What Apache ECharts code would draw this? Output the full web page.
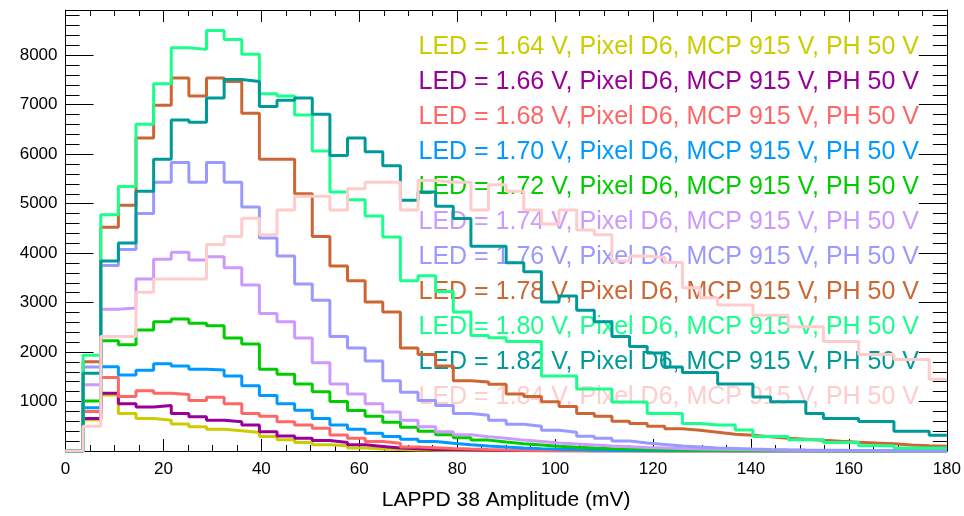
<!DOCTYPE html>
<html>
<head>
<meta charset="utf-8">
<script src="https://cdn.jsdelivr.net/npm/echarts@6/dist/echarts.min.js"></script>
<style>
  html, body { margin: 0; padding: 0; background: #fff; }
  #chart { width: 964px; height: 516px; }
</style>
</head>
<body>
<div id="chart"></div>
<script>
// bin width of the histograms (mV), 50 bins from 0 to 180
const BIN_W = 3.6;

const ledVoltages = ['1.64', '1.66', '1.68', '1.70', '1.72', '1.74', '1.76', '1.78', '1.80', '1.82', '1.84'];
const colors = ['#cccc00', '#990099', '#ff6666', '#0099ff', '#00cc00', '#cc99ff', '#9999ff', '#cc6633', '#1aff8c', '#009999', '#ffcccc'];

// counts per bin
const led164 = [0, 630, 1130, 756, 657, 623, 544, 491, 438, 411, 372, 292, 225, 173, 126, 106, 60, 40, 30, 22, 16, 12, 9, 7, 5, 4, 3, 2, 2, 1, 1, 1, 0, 0, 0, 0, 0, 0, 0, 0, 0, 0, 0, 0, 0, 0, 0, 0, 0, 0];
const led166 = [0, 657, 1168, 955, 889, 922, 756, 690, 623, 590, 524, 391, 305, 259, 212, 173, 126, 93, 60, 45, 32, 24, 18, 13, 10, 8, 6, 4, 3, 2, 2, 1, 1, 1, 0, 0, 0, 0, 0, 0, 0, 0, 0, 0, 0, 0, 0, 0, 0, 0];
const led168 = [0, 800, 1486, 1101, 1220, 1168, 1141, 1021, 1088, 955, 756, 700, 590, 524, 458, 325, 259, 193, 159, 80, 65, 50, 38, 28, 21, 16, 12, 9, 7, 5, 4, 3, 2, 2, 1, 1, 0, 0, 0, 0, 0, 0, 0, 0, 0, 0, 0, 0, 0, 0];
const led170 = [0, 876, 1705, 1538, 1632, 1765, 1717, 1652, 1638, 1518, 1320, 1120, 955, 822, 657, 524, 438, 358, 292, 239, 193, 159, 126, 100, 80, 62, 48, 37, 28, 21, 16, 12, 9, 7, 5, 4, 3, 2, 2, 1, 1, 0, 0, 0, 0, 0, 0, 0, 0, 0];
const led172 = [0, 1009, 2229, 2149, 2448, 2613, 2667, 2581, 2534, 2283, 2163, 1652, 1552, 1353, 1200, 1000, 820, 700, 580, 480, 400, 330, 270, 220, 180, 145, 120, 95, 75, 60, 48, 38, 30, 24, 18, 14, 10, 8, 6, 5, 4, 3, 2, 2, 1, 1, 1, 0, 0, 0];
const led174 = [0, 1340, 2866, 2892, 3476, 3874, 4020, 3861, 3926, 3707, 3357, 2780, 2613, 2283, 1785, 1353, 1154, 955, 790, 623, 491, 391, 330, 290, 260, 220, 190, 160, 140, 120, 100, 85, 70, 60, 50, 42, 35, 30, 25, 20, 17, 14, 12, 10, 8, 7, 6, 5, 4, 3];
const led176 = [0, 1698, 3750, 4073, 4802, 5433, 5831, 5433, 5831, 5433, 4935, 4304, 3940, 3377, 3045, 2314, 2083, 1817, 1419, 1188, 1021, 922, 756, 723, 623, 540, 500, 420, 380, 300, 259, 200, 160, 130, 100, 80, 60, 50, 40, 32, 26, 21, 17, 14, 11, 9, 7, 6, 5, 4];
const led178 = [0, 1805, 4523, 4969, 6328, 6991, 7542, 7178, 7542, 7469, 6826, 5897, 5897, 5200, 4338, 3741, 3443, 3011, 2812, 2083, 1950, 1717, 1419, 1393, 1350, 1154, 1100, 995, 900, 756, 700, 600, 557, 500, 450, 418, 380, 340, 318, 290, 260, 239, 215, 195, 179, 160, 145, 119, 105, 95];
const led180 = [0, 1937, 4776, 5347, 6607, 7423, 8153, 8119, 8503, 8318, 8020, 7224, 7178, 6792, 6067, 5234, 5081, 4750, 4324, 3443, 3542, 3224, 2812, 2334, 2290, 2215, 2215, 1518, 1518, 1254, 1254, 989, 989, 756, 756, 557, 524, 524, 424, 292, 292, 225, 225, 172, 172, 106, 106, 60, 60, 60];
const led182 = [0, 1572, 3841, 4205, 5250, 5897, 6692, 6647, 7138, 7508, 7469, 6965, 7090, 7138, 6806, 5976, 6328, 6050, 5765, 5068, 5234, 4950, 4700, 4140, 4140, 3807, 3622, 3011, 3131, 2846, 2613, 2314, 2115, 1983, 1700, 1585, 1585, 1353, 1353, 1094, 995, 995, 756, 657, 657, 597, 597, 398, 398, 318];
const led184 = [0, 500, 2314, 2314, 3210, 3476, 3476, 3476, 4173, 4338, 4703, 4372, 4870, 5148, 5148, 4870, 5300, 5433, 5433, 4870, 5466, 5433, 5433, 4870, 5380, 5250, 4870, 4590, 4870, 4470, 4370, 3840, 3940, 3910, 3810, 3300, 3100, 2950, 2950, 2746, 2746, 2513, 2513, 2215, 2215, 1950, 1950, 1850, 1850, 1450];

const histos = [led164, led166, led168, led170, led172, led174, led176, led178, led180, led182, led184];

const FONT = '"Liberation Sans", Arial, Helvetica, sans-serif';
const names = ledVoltages.map(v => 'LED = ' + v + ' V, Pixel D6, MCP 915 V, PH 50 V');

// histogram as step line: one point per bin low edge, plus the last upper edge
function toSteps(counts) {
  const pts = counts.map((c, i) => [i * BIN_W, c]);
  pts.push([counts.length * BIN_W, counts[counts.length - 1]]);
  return pts;
}

const chart = echarts.init(document.getElementById('chart'));

const tickX = {
  inside: true, length: 12, lineStyle: { color: '#000', width: 1 }
};
const minorX = {
  show: true, splitNumber: 4, length: 6, lineStyle: { color: '#000', width: 1 }
};
const tickY = {
  inside: true, length: 28, lineStyle: { color: '#000', width: 1 }
};
const minorY = {
  show: true, splitNumber: 5, length: 14, lineStyle: { color: '#000', width: 1 }
};
const axLine = { show: true, onZero: false, lineStyle: { color: '#000', width: 1 } };

const option = {
  animation: false,
  backgroundColor: '#fff',
  grid: { left: 65.5, right: 16.5, top: 10, bottom: 58 },
  legend: {
    orient: 'vertical',
    right: 35,
    top: 30,
    align: 'right',
    icon: 'none',
    itemWidth: 0,
    itemHeight: 25,
    itemGap: 10,
    selectedMode: false,
    z: 1,
    textStyle: { fontSize: 25, fontFamily: FONT, lineHeight: 25 },
    data: names.map((n, i) => ({ name: n, textStyle: { color: colors[i] } }))
  },
  xAxis: [
    {
      type: 'value', min: 0, max: 180, interval: 20, position: 'bottom',
      axisLine: axLine, axisTick: tickX, minorTick: minorX,
      splitLine: { show: false }, minorSplitLine: { show: false },
      axisLabel: { fontSize: 17, color: '#000', fontFamily: FONT, margin: 10 },
      name: 'LAPPD 38 Amplitude (mV)', nameLocation: 'middle', nameGap: 39,
      nameTextStyle: { fontSize: 21, color: '#000', fontFamily: FONT }
    },
    {
      type: 'value', min: 0, max: 180, interval: 20, position: 'top',
      axisLine: axLine, axisTick: tickX, minorTick: minorX,
      splitLine: { show: false }, axisLabel: { show: false }
    }
  ],
  yAxis: [
    {
      type: 'value', min: 0, max: 8915, interval: 1000, position: 'left',
      axisLine: axLine, axisTick: tickY, minorTick: minorY,
      splitLine: { show: false },
      axisLabel: {
        fontSize: 17, color: '#000', fontFamily: FONT, margin: 8,
        formatter: v => (v === 0 || v > 8000) ? '' : String(v)
      }
    },
    {
      type: 'value', min: 0, max: 8915, interval: 1000, position: 'right',
      axisLine: axLine, axisTick: tickY, minorTick: minorY,
      splitLine: { show: false }, axisLabel: { show: false }
    }
  ],
  series: histos.map((h, i) => ({
    name: names[i],
    type: 'line',
    step: 'end',
    xAxisIndex: 0,
    yAxisIndex: 0,
    showSymbol: false,
    symbol: 'none',
    color: colors[i],
    lineStyle: { color: colors[i], width: 3 },
    z: 2,
    data: toSteps(h)
  }))
};

chart.setOption(option);
window.addEventListener('resize', function () {
  chart.resize();
});
</script>
</body>
</html>
